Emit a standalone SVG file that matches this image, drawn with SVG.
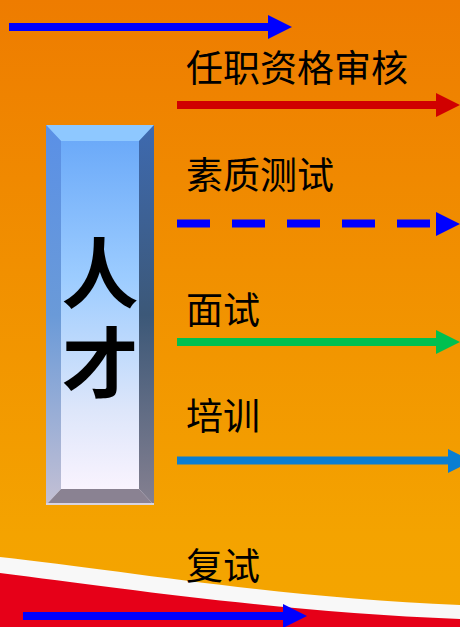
<svg xmlns="http://www.w3.org/2000/svg" width="460" height="627" viewBox="0 0 460 627">
<defs>
<linearGradient id="bg" x1="0" y1="0" x2="0" y2="1">
<stop offset="0" stop-color="#EE7C00"/>
<stop offset="0.85" stop-color="#F4A300"/>
<stop offset="1" stop-color="#F4A500"/>
</linearGradient>
<linearGradient id="face" x1="0" y1="0" x2="0" y2="1">
<stop offset="0" stop-color="#66A6F8"/>
<stop offset="0.4" stop-color="#9CCCFF"/>
<stop offset="0.75" stop-color="#DDE6FA"/>
<stop offset="1" stop-color="#FFF6FF"/>
</linearGradient>
<linearGradient id="lb" x1="0" y1="0" x2="0" y2="1">
<stop offset="0" stop-color="#5A90E6"/>
<stop offset="0.5" stop-color="#6A9AD8"/>
<stop offset="1" stop-color="#C4C0D4"/>
</linearGradient>
<linearGradient id="rb" x1="0" y1="0" x2="0" y2="1">
<stop offset="0" stop-color="#3E6AB0"/>
<stop offset="0.5" stop-color="#3C5878"/>
<stop offset="1" stop-color="#858090"/>
</linearGradient>
<style>
.lbl{font-family:"Noto Sans CJK SC","Noto Sans",sans-serif;font-size:37px;fill:#000}
.big{font-family:"Noto Sans CJK SC","Noto Sans",sans-serif;font-size:77px;font-weight:bold;fill:#000;writing-mode:vertical-rl;letter-spacing:12px}
.ln{stroke-width:8;fill:none}
</style>
</defs>
<rect width="460" height="627" fill="url(#bg)"/>
<path d="M0,557 C120,570 280,598 460,605 L460,627 L0,627 Z" fill="#F8F8F8"/>
<path d="M0,573 C120,588 280,612 460,619 L460,627 L0,627 Z" fill="#E60018"/>
<g id="node-rencai">
<rect x="46" y="125" width="108" height="380" fill="url(#face)"/>
<polygon points="46,125 154,125 139,141 61,141" fill="#8EC8FF"/>
<polygon points="46,125 61,141 61,489 46,505" fill="url(#lb)"/>
<polygon points="154,125 154,505 139,489 139,141" fill="url(#rb)"/>
<polygon points="46,505 61,489 139,489 154,505" fill="#8A8292"/>
<rect x="46" y="503" width="108" height="2" fill="#D8D4E0"/>
<text class="big" x="100" y="235">人才</text>
</g>
<g id="labels">
<text class="lbl" x="186" y="82">任职资格审核</text>
<text class="lbl" x="186" y="189">素质测试</text>
<text class="lbl" x="186" y="324">面试</text>
<text class="lbl" x="186" y="430">培训</text>
<text class="lbl" x="186" y="580">复试</text>
</g>
<g id="connectors">
<line class="ln" x1="9" y1="27" x2="270" y2="27" stroke="#0000FF"/>
<polygon points="268,15 292,27 268,39" fill="#0000FF"/>
<line class="ln" x1="177" y1="105" x2="438" y2="105" stroke="#D00000"/>
<polygon points="436,93 460,105 436,117" fill="#D00000"/>
<line class="ln" x1="177" y1="223.5" x2="438" y2="223.5" stroke="#0000FF" stroke-dasharray="33 22"/>
<polygon points="436,212 460,224 436,236" fill="#0000FF"/>
<line class="ln" x1="177" y1="342" x2="438" y2="342" stroke="#00C050"/>
<polygon points="436,330 460,342 436,354" fill="#00C050"/>
<line class="ln" x1="177" y1="460.5" x2="450" y2="460.5" stroke="#0A7ED2"/>
<polygon points="448,449 472,461 448,473" fill="#0A7ED2"/>
<line class="ln" x1="23" y1="616" x2="285" y2="616" stroke="#0000FF"/>
<polygon points="283,604 307,616 283,628" fill="#0000FF"/>
</g>
</svg>
